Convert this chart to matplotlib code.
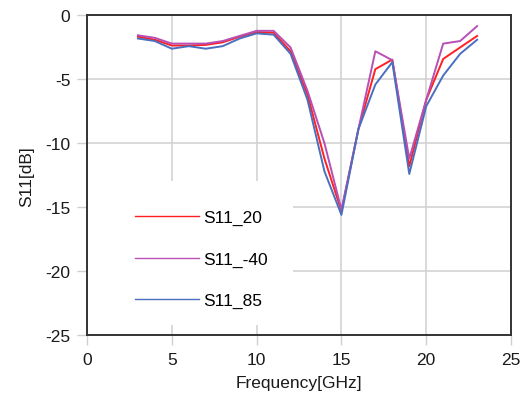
import matplotlib
matplotlib.use("Agg")
import matplotlib.pyplot as plt
from matplotlib.patches import Rectangle

freq = [3, 4, 5, 6, 7, 8, 9, 10, 11, 12, 13, 14, 15, 16, 17, 18, 19, 20, 21, 22, 23]
s11_20 = [-1.66, -1.9, -2.35, -2.35, -2.3, -2.1, -1.66, -1.3, -1.35, -2.8, -6.2, -11.2,
          -15.3, -8.9, -4.2, -3.45, -11.8, -6.6, -3.4, -2.5, -1.6]
s11_m40 = [-1.55, -1.75, -2.2, -2.2, -2.2, -2.0, -1.6, -1.2, -1.2, -2.5, -5.9, -10.0,
           -15.2, -8.9, -2.8, -3.5, -11.2, -6.6, -2.2, -2.0, -0.83]
s11_85 = [-1.8, -2.0, -2.6, -2.4, -2.6, -2.4, -1.8, -1.4, -1.5, -3.0, -6.6, -12.2,
          -15.6, -8.9, -5.4, -3.65, -12.4, -7.1, -4.7, -3.0, -1.9]
labels = ["S11_20", "S11_-40", "S11_85"]
colors = ["#ff2020", "#b84fb4", "#4a6fc0"]
xticks = [0, 5, 10, 15, 20, 25]
yticks = [0, -5, -10, -15, -20, -25]

plt.rcParams['font.family'] = ['Liberation Sans', 'DejaVu Sans']
plt.rcParams['axes.unicode_minus'] = False
fig = plt.figure(figsize=(5.22, 4.10), dpi=100)
ax = fig.add_axes([0.1667, 0.1805, 0.979 - 0.1667, 0.9598 - 0.1805])

for ys, lab, c in zip([s11_20, s11_m40, s11_85], labels, colors):
    ax.plot(freq, ys, color=c, lw=1.4, label=lab, zorder=3)

ax.set_xlim(0, 25)
ax.set_ylim(-25, 0)
ax.set_xticks(xticks)
ax.set_yticks(yticks)
ax.grid(True, color="#d0d0d0", lw=1.1, zorder=0)
ax.set_axisbelow(True)
ax.tick_params(axis='both', length=7, width=1.0, color="#d0d0d0", labelsize=12.5,
               labelcolor="#1a1a1a", pad=5)
for sp in ax.spines.values():
    sp.set_color("#333333")
    sp.set_linewidth(1.4)
    sp.set_zorder(5)

# white legend background masking gridlines
ax.add_patch(Rectangle((0, 0.031), 0.486, 0.451, transform=ax.transAxes,
                       facecolor="white", edgecolor="none", zorder=1))

leg = ax.legend(loc='upper left', bbox_to_anchor=(0.113, 0.392), frameon=False,
                borderpad=0, borderaxespad=0, labelspacing=1.52, handlelength=3.7,
                handletextpad=0.25, fontsize=12.5)
for line in leg.get_lines():
    line.set_linewidth(1.0)

ax.set_xlabel("Frequency[GHz]", fontsize=12.5, color="#1a1a1a", labelpad=6)
ax.set_ylabel("S11[dB]", fontsize=12.5, color="#1a1a1a", labelpad=8)

fig.savefig("out.png", dpi=100)
